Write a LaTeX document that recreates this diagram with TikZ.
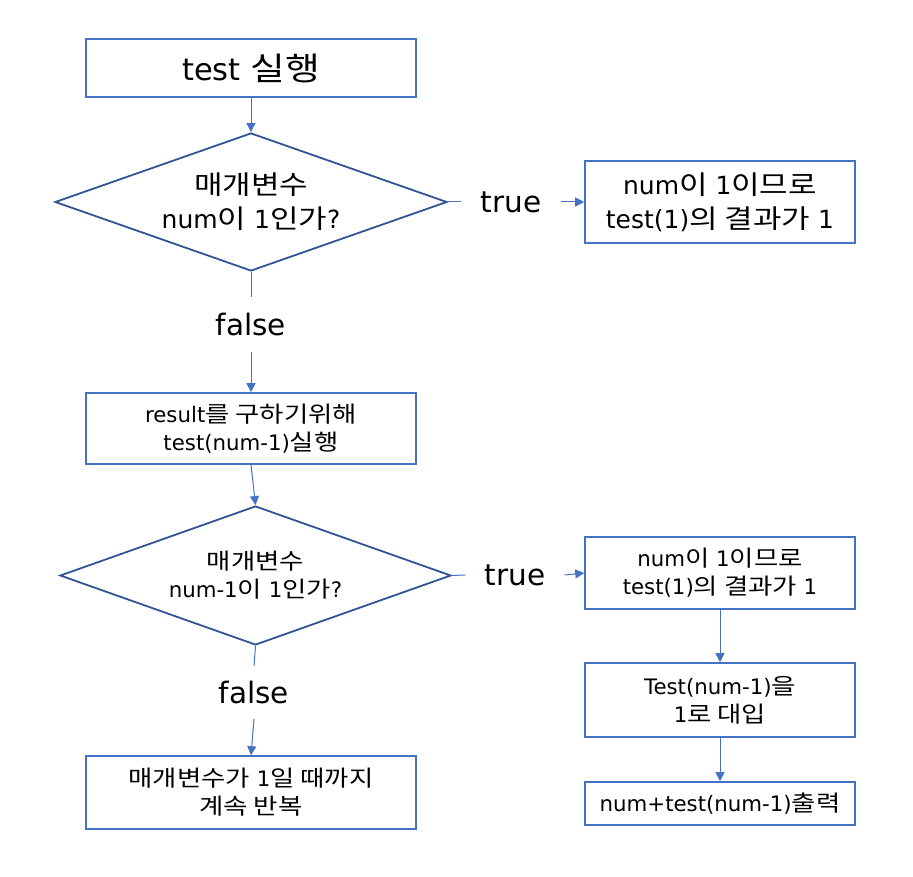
\documentclass[tikz,border=0pt]{standalone}
\usepackage{fontspec}
\setmainfont{DejaVu Sans}
\newfontfamily\krfont{Noto Sans CJK KR}[Scale=1.05,FakeStretch=1.18]
\newcommand\hgl[1]{{\krfont #1}}
\usetikzlibrary{shapes.geometric,arrows.meta}
\definecolor{boxblue}{HTML}{4472C4}
\definecolor{dmblue}{HTML}{2F5597}
\tikzset{
  box/.style={draw=boxblue,line width=1.6pt,fill=white,minimum width=#1,inner sep=0pt,align=center},
  dm/.style={draw=dmblue,line width=1.8pt,diamond,aspect=2.84,inner sep=0pt,align=center},
  lbl/.style={inner sep=0pt,font=\fontsize{29.5}{31}\selectfont},
  conn/.style={draw=boxblue,line width=1pt},
  arr/.style={conn,-{Triangle[length=9pt,width=9pt]}},
  big/.style={font=\fontsize{30.5}{34}\selectfont},
  mid/.style={font=\fontsize{25}{34}\selectfont},
  sm/.style={font=\fontsize{21.3}{28}\selectfont}
}
\begin{document}
\begin{tikzpicture}[x=1pt,y=-1pt]
\useasboundingbox (0,0) rectangle (913,877);
\node[box=330pt,minimum height=58pt,big] (b1) at (251,68) {test \hgl{실행}};
\node[dm,minimum width=392pt,minimum height=138pt,mid] (d1) at (251,202) {\hgl{매개변수}\\num\hgl{이} 1\hgl{인가}?};
\node[lbl,minimum width=99pt,minimum height=30pt] (t1) at (511,202) {true};
\node[box=270pt,minimum height=82pt,mid] (b2) at (720,202) {num\hgl{이} 1\hgl{이므로}\\test(1)\hgl{의 결과가} 1};
\node[lbl,minimum width=60pt,minimum height=55pt] (f1) at (251,324.5) {false};
\node[box=330pt,minimum height=71pt,sm] (b3) at (251,428.5) {result\hgl{를 구하기위해}\\test(num-1)\hgl{실행}};
\node[dm,minimum width=391pt,minimum height=139pt,sm] (d2) at (255.5,575.5) {\hgl{매개변수}\\num-1\hgl{이} 1\hgl{인가}?};
\node[lbl,minimum width=99pt,minimum height=30pt] (t2) at (515,575) {true};
\node[box=270pt,minimum height=72pt,sm] (b4) at (720,573) {num\hgl{이} 1\hgl{이므로}\\test(1)\hgl{의 결과가} 1};
\node[box=270pt,minimum height=74pt,sm] (b5) at (720,700) {Test(num-1)\hgl{을}\\1\hgl{로 대입}};
\node[box=270pt,minimum height=43pt,sm] (b6) at (720,803.5) {num+test(num-1)\hgl{출력}};
\node[lbl,minimum width=60pt,minimum height=53pt] (f2) at (254,692.5) {false};
\node[box=330pt,minimum height=73pt,sm] (b7) at (251,792.5) {\hgl{매개변수가} 1\hgl{일 때까지}\\\hgl{계속 반복}};
\draw[arr] (b1.south) -- (d1.north);
\draw[conn] (d1.east) -- (t1.west);
\draw[arr] (t1.east) -- (b2.west);
\draw[conn] (d1.south) -- (f1.north);
\draw[arr] (f1.south) -- (b3.north);
\draw[arr] (b3.south) -- (d2.north);
\draw[conn] (d2.east) -- (t2.west);
\draw[arr] (t2.east) -- (b4.west);
\draw[arr] (b4.south) -- (b5.north);
\draw[arr] (b5.south) -- (b6.north);
\draw[conn] (d2.south) -- (f2.north);
\draw[arr] (f2.south) -- (b7.north);
\end{tikzpicture}
\end{document}
